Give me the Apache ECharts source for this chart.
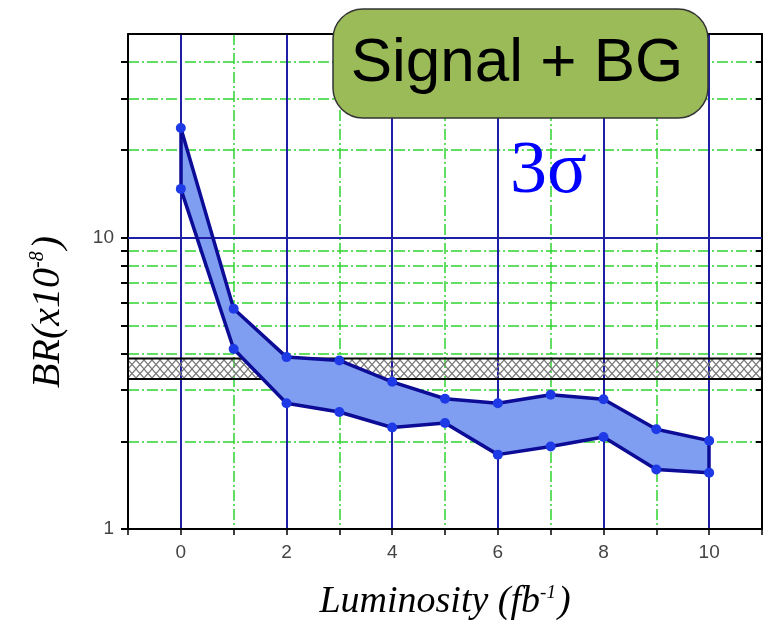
<!DOCTYPE html>
<html>
<head>
<meta charset="utf-8">
<script src="https://cdn.jsdelivr.net/npm/echarts@6/dist/echarts.min.js"></script>
<style>
  html, body { margin: 0; padding: 0; background: #fff; }
  #root { width: 765px; height: 630px; }
</style>
</head>
<body>
<div id="root"></div>
<script>
// luminosity points (fb^-1)
var lumi = [0, 1, 2, 3, 4, 5, 6, 7, 8, 9, 10];
// upper and lower edge of the 3 sigma band, BR in units of 1e-8
var brUpper = [23.8, 5.7, 3.89, 3.79, 3.2, 2.8, 2.7, 2.89, 2.79, 2.2, 2.01];
var brLower = [14.7, 4.15, 2.7, 2.52, 2.23, 2.31, 1.8, 1.92, 2.07, 1.6, 1.56];
// hatched band (current limit)
var limitBand = [3.27, 3.85];
// y ticks / labels
var yTicks = [1, 2, 3, 4, 5, 6, 7, 8, 9, 10, 20, 30, 40];
var yLabels = [1, 10];
var yMajor = [10];
var xMajor = [0, 2, 4, 6, 8, 10];

var dom = document.getElementById('root');
var myChart = echarts.init(dom, null, { renderer: 'canvas' });

// crosshatch pattern for the band
var pat = document.createElement('canvas');
pat.width = 8;
pat.height = 9;
var c = pat.getContext('2d');
c.strokeStyle = '#7a7a7a';
c.lineWidth = 1.2;
c.beginPath();
c.moveTo(0, 0); c.lineTo(8, 9);
c.moveTo(8, 0); c.lineTo(0, 9);
c.stroke();

var pairs = function (ys) {
  return lumi.map(function (x, i) { return [x, ys[i]]; });
};
var last = lumi.length - 1;

var gridBlue = '#1e1ea6';
var gridGreen = '#2fd42f';
var edgeBlue = '#0c0c96';
var dotBlue = '#1e3ae6';
var dashDot = [11, 3, 2, 3];

// filled region between the two edges
var renderBand = function (params, api) {
  var pts = [];
  lumi.forEach(function (x, i) { pts.push(api.coord([x, brUpper[i]])); });
  for (var i = last; i >= 0; i--) pts.push(api.coord([lumi[i], brLower[i]]));
  return {
    type: 'polygon',
    shape: { points: pts },
    style: { fill: '#7f9ef1' }
  };
};

var option = {
  animation: false,
  grid: { left: 128, top: 34, right: 3, bottom: 101 },
  xAxis: [
    {
      type: 'value', min: -1, max: 11, interval: 1,
      axisLine: { onZero: false, lineStyle: { color: '#000', width: 2 } },
      axisTick: { inside: false, length: 6, lineStyle: { color: '#000', width: 1.5 } },
      axisLabel: {
        margin: 14, fontSize: 19, color: '#444', fontFamily: 'Liberation Sans',
        formatter: function (v) { return v % 2 === 0 && v >= 0 && v <= 10 ? String(v) : ''; }
      },
      splitLine: { show: true, lineStyle: { color: gridGreen, width: 1.5, type: dashDot } }
    },
    {
      type: 'value', min: -1, max: 11, position: 'top',
      axisLine: { onZero: false, lineStyle: { color: '#000', width: 2 } },
      axisTick: { show: false, customValues: xMajor },
      axisLabel: { show: false },
      splitLine: { show: true, lineStyle: { color: gridBlue, width: 2 } }
    }
  ],
  yAxis: [
    {
      type: 'log', logBase: 10, min: 1, max: 50,
      axisLine: { show: true, onZero: false, lineStyle: { color: '#000', width: 2 } },
      axisTick: { show: true, length: 7, customValues: yTicks, lineStyle: { color: '#000', width: 2 } },
      axisLabel: { customValues: yLabels, margin: 14, fontSize: 19, color: '#444', fontFamily: 'Liberation Sans' },
      splitLine: { show: true, lineStyle: { color: gridGreen, width: 1.5, type: dashDot } }
    },
    {
      type: 'log', logBase: 10, min: 1, max: 50, position: 'right',
      axisLine: { show: true, onZero: false, lineStyle: { color: '#000', width: 2 } },
      axisTick: { show: true, inside: true, length: 6, customValues: yTicks, lineStyle: { color: '#000', width: 2 } },
      axisLabel: { show: false },
      splitLine: { show: false }
    }
  ],
  series: [
    {
      name: 'major', type: 'line', data: [], z: 1,
      markLine: {
        silent: true, symbol: 'none', label: { show: false },
        lineStyle: { color: gridBlue, width: 2, type: 'solid' },
        data: yMajor.map(function (v) { return { yAxis: v }; })
      }
    },
    {
      name: 'fill', type: 'custom', z: 2,
      data: [[lumi[0], brLower[0]]],
      renderItem: renderBand
    },
    {
      name: 'limit', type: 'line', data: [], z: 3,
      markArea: {
        silent: true,
        itemStyle: { color: { image: pat, repeat: 'repeat' }, borderColor: '#000', borderWidth: 2 },
        data: [[{ yAxis: limitBand[0] }, { yAxis: limitBand[1] }]]
      }
    },
    {
      name: 'upper', type: 'line', data: pairs(brUpper), z: 5,
      lineStyle: { color: edgeBlue, width: 3.5 },
      symbol: 'circle', symbolSize: 10, itemStyle: { color: dotBlue }
    },
    {
      name: 'lower', type: 'line', data: pairs(brLower), z: 5,
      lineStyle: { color: edgeBlue, width: 3.5 },
      symbol: 'circle', symbolSize: 10, itemStyle: { color: dotBlue }
    },
    {
      name: 'edges', type: 'lines', coordinateSystem: 'cartesian2d', z: 5,
      lineStyle: { color: edgeBlue, width: 3.5, opacity: 1 },
      data: [
        { coords: [[lumi[0], brLower[0]], [lumi[0], brUpper[0]]] },
        { coords: [[lumi[last], brLower[last]], [lumi[last], brUpper[last]]] }
      ]
    }
  ],
  graphic: [
    {
      type: 'rect', z: 100,
      shape: { x: 333, y: 9, width: 375, height: 109, r: 30 },
      style: { fill: '#9bbb59', stroke: '#333', lineWidth: 1.5 }
    },
    {
      type: 'text', z: 101, x: 517, y: 64,
      style: { text: 'Signal + BG', font: '62px "Liberation Sans", Arial, sans-serif', fill: '#000', align: 'center', verticalAlign: 'middle' }
    },
    {
      type: 'text', z: 101, x: 510, y: 173,
      style: { text: '3σ', font: '74px "Liberation Serif", "Times New Roman", serif', fill: '#0000ff', align: 'left', verticalAlign: 'middle' }
    },
    {
      type: 'text', z: 101, x: 445, y: 602,
      style: {
        text: '{a|Luminosity (fb}{s|-1}{a|)}', align: 'center', verticalAlign: 'middle',
        rich: {
          a: { fontStyle: 'italic', fontSize: 38, fontFamily: 'Liberation Serif', color: '#111' },
          s: { fontStyle: 'italic', fontSize: 19, fontFamily: 'Liberation Serif', color: '#111', verticalAlign: 'top', padding: [0, 2, 18, 0] }
        }
      }
    },
    {
      type: 'text', z: 101, x: 48, y: 312, rotation: Math.PI / 2,
      style: {
        text: '{a|BR(x10}{s|-8}{a|)}', align: 'center', verticalAlign: 'middle',
        rich: {
          a: { fontStyle: 'italic', fontSize: 40, fontFamily: 'Liberation Serif', color: '#111' },
          s: { fontStyle: 'italic', fontSize: 20, fontFamily: 'Liberation Serif', color: '#111', verticalAlign: 'top', padding: [0, 2, 19, 0] }
        }
      }
    }
  ]
};

myChart.setOption(option);
</script>
</body>
</html>
